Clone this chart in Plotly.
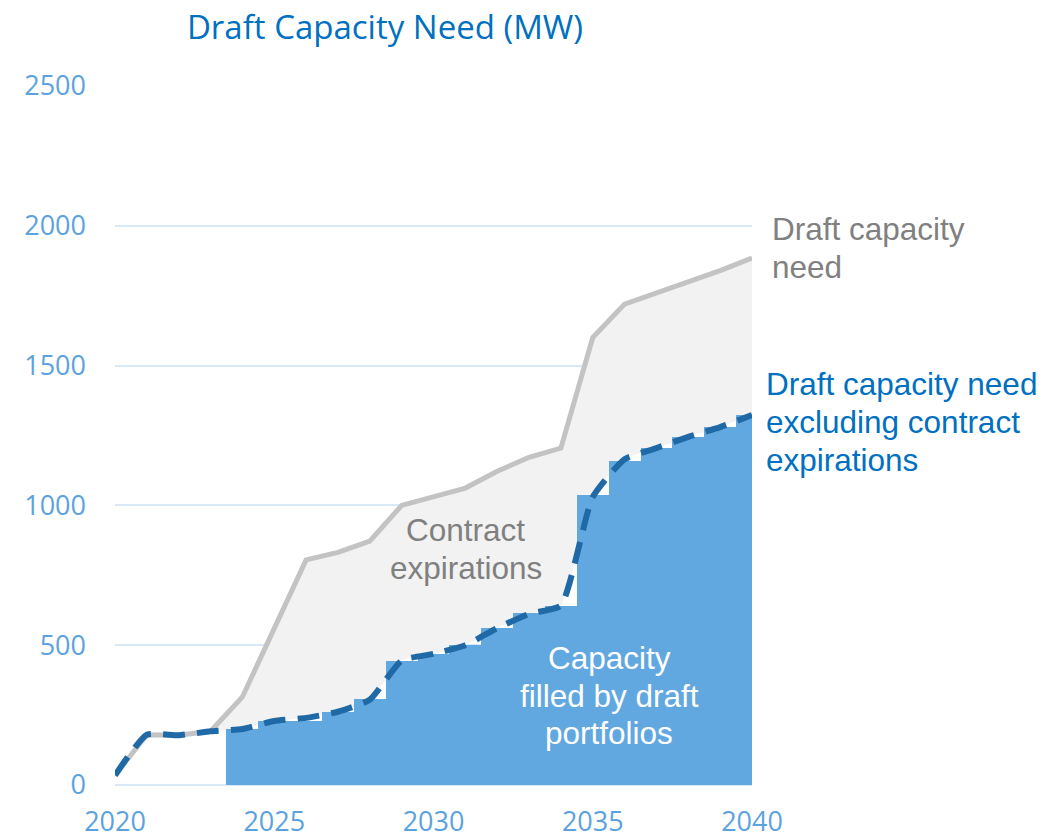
import plotly.graph_objects as go

# Annual capacity need (MW)
years = list(range(2020, 2041))
need_total = [35, 180, 178, 192, 315, 560, 805, 832, 872, 1000, 1032,
              1062, 1122, 1172, 1205, 1600, 1720, 1760, 1802, 1840, 1885]
need_excl = [35, 180, 178, 192, 200, 229, 240, 262, 305, 445, 469,
             500, 561, 612, 642, 1030, 1165, 1205, 1245, 1280, 1323]

# Capacity filled by draft portfolios, by year
fill_years = list(range(2024, 2041))
filled = [200, 229, 229, 262, 308, 443, 469, 500, 561, 615, 640,
          1037, 1159, 1205, 1245, 1280, 1323]

y_ticks = [0, 500, 1000, 1500, 2000, 2500]
x_ticks = [2020, 2025, 2030, 2035, 2040]

W, H = 1052, 838
ML, MR, MT, MB = 115, 300, 86, 53
PW, PH = W - ML - MR, H - MT - MB

GRAY_LINE = "#c3c3c3"
GRAY_FILL = "#f2f2f2"
GRAY_TEXT = "#808080"
BLUE_TEXT = "#0070c0"
BAR_BLUE = "#62a8e0"
DASH_BLUE = "#1f69a6"
TICK_BLUE = "#5ca2de"
GRID = "#d9e8f6"

fig = go.Figure()

# Contract expirations band: between the two need curves
fig.add_trace(go.Scatter(x=years, y=need_excl, mode="lines",
                         line=dict(width=0, shape="spline", smoothing=0.5),
                         hoverinfo="skip", showlegend=False,
                         xaxis="x", yaxis="y"))
fig.add_trace(go.Scatter(x=years, y=need_total, mode="lines",
                         fill="tonexty", fillcolor=GRAY_FILL,
                         line=dict(color=GRAY_LINE, width=5),
                         showlegend=False, xaxis="x", yaxis="y"))

# Portfolio bars and the excluding-expirations line on an overlay
fig.add_trace(go.Bar(x=fill_years, y=filled, width=1.0,
                     marker=dict(color=BAR_BLUE, line=dict(width=0)),
                     showlegend=False, xaxis="x2", yaxis="y2"))
fig.add_trace(go.Scatter(x=years, y=need_excl, mode="lines",
                         line=dict(color=DASH_BLUE, width=6, dash="22px,12px",
                                   shape="spline", smoothing=0.5),
                         showlegend=False, xaxis="x2", yaxis="y2"))

xr = [2020, 2040]
yr = [0, 2500]


def px_to_paper(px, py):
    return (px - ML) / PW, (MT + PH - py) / PH


def text_block(lines, px, py, step, color, anchor):
    for i, line in enumerate(lines):
        x, y = px_to_paper(px, py + i * step)
        fig.add_annotation(text=line, x=x, y=y, xref="paper", yref="paper",
                           xanchor=anchor, yanchor="middle", showarrow=False,
                           font=dict(family="Liberation Sans, Arial", size=31.5,
                                     color=color))


text_block(["Draft capacity", "need"], 770, 229, 37.5, GRAY_TEXT, "left")
text_block(["Draft capacity need", "excluding contract", "expirations"],
           764, 384, 38, BLUE_TEXT, "left")
text_block(["Contract", "expirations"], 466, 530, 38, GRAY_TEXT, "center")
text_block(["Capacity", "filled by draft", "portfolios"], 609, 658, 37.5,
           "#ffffff", "center")

fig.update_layout(
    width=W, height=H,
    margin=dict(l=ML, r=MR, t=MT, b=MB, autoexpand=False),
    paper_bgcolor="white", plot_bgcolor="white",
    bargap=0,
    title=dict(text="Draft Capacity Need (MW)", x=(385 - ML) / PW, xref="paper",
               xanchor="center", y=1 - 27 / H, yref="container", yanchor="middle",
               font=dict(family="Open Sans", size=33, color=BLUE_TEXT)),
    xaxis=dict(range=xr, tickvals=x_ticks, showgrid=False, zeroline=False,
               showline=False, ticks="", ticklabelstandoff=18, automargin=False,
               tickfont=dict(family="Open Sans", size=27, color=TICK_BLUE)),
    yaxis=dict(range=yr, tickvals=y_ticks, showgrid=True, gridcolor=GRID,
               gridwidth=2, zeroline=True, zerolinecolor=GRID, zerolinewidth=2,
               showline=False, ticks="", ticklabelstandoff=28, automargin=False,
               tickfont=dict(family="Open Sans", size=27, color=TICK_BLUE)),
    xaxis2=dict(range=xr, overlaying="x", visible=False),
    yaxis2=dict(range=yr, overlaying="y", visible=False),
)

fig.write_html("out.html")
